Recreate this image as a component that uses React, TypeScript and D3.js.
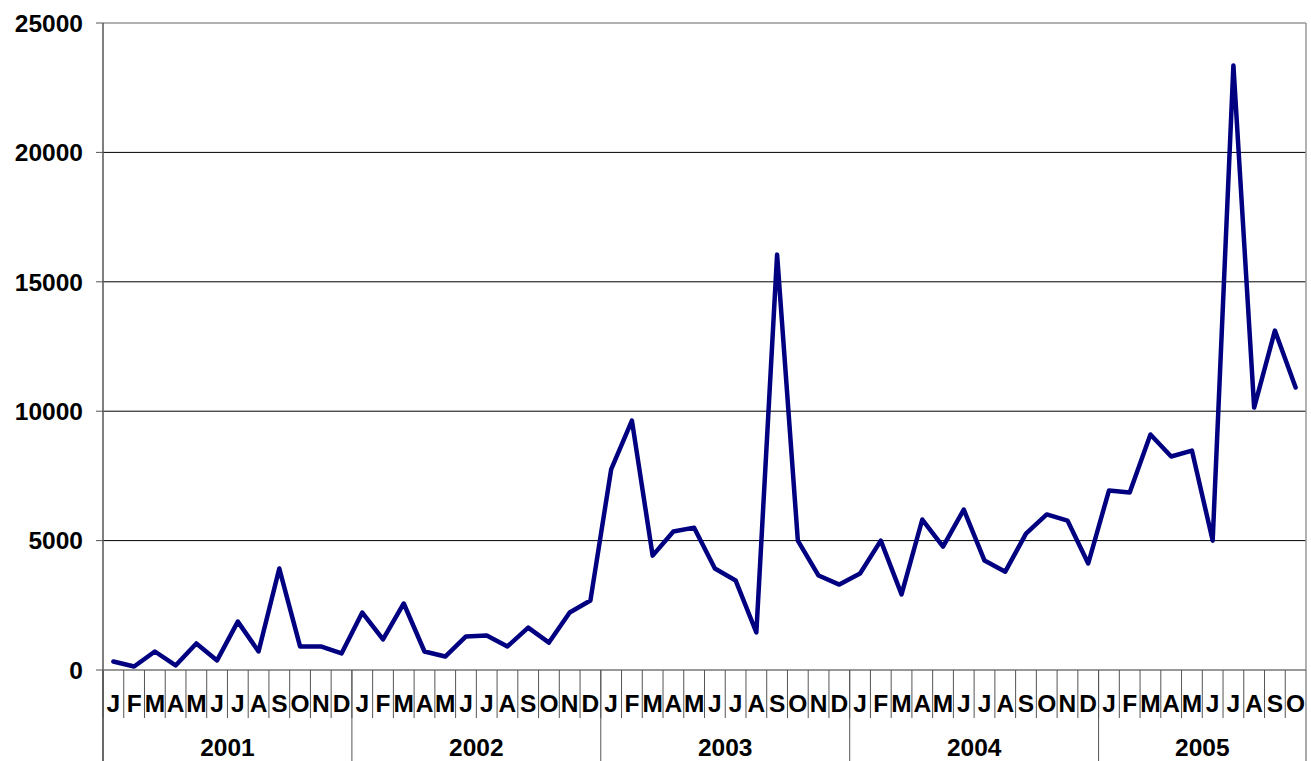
import React from 'react';
import * as d3 from 'd3';

const years = ['2001', '2002', '2003', '2004', '2005'];
const monthLetters = ['J', 'F', 'M', 'A', 'M', 'J', 'J', 'A', 'S', 'O', 'N', 'D'];
const yTicks = [0, 5000, 10000, 15000, 20000, 25000];

const values2001 = [330, 135, 715, 175, 1025, 370, 1870, 715, 3920, 910, 910, 640];
const values2002 = [2220, 1180, 2570, 715, 520, 1295, 1330, 910, 1640, 1060, 2220, 2685];
const values2003 = [7750, 9640, 4420, 5350, 5500, 3920, 3460, 1450, 16050, 5000, 3650, 3300];
const values2004 = [3730, 5000, 2920, 5815, 4770, 6200, 4230, 3800, 5270, 6010, 5775, 4115];
const values2005 = [6935, 6860, 9100, 8250, 8480, 5000, 23360, 10140, 13115, 10915];

const W = 1311;
const H = 761;
const m = { l: 103, r: 1306, t: 23, b: 670 };
const FONT = '"Liberation Sans", Arial, sans-serif';
const FS = 24.5;

export default function App() {
  const series = [values2001, values2002, values2003, values2004, values2005];
  const points = series.flatMap((vals, yi) =>
    vals.map((v, mi) => ({ key: `${years[yi]}-${mi}`, year: years[yi], label: monthLetters[mi], value: v }))
  );
  const keys = points.map((p) => p.key);

  const x = d3.scaleBand().domain(keys).range([m.l, m.r]).padding(0);
  const y = d3.scaleLinear().domain([0, 25000]).range([m.b, m.t]);

  const line = d3
    .line<(typeof points)[number]>()
    .x((d) => (x(d.key) || 0) + x.bandwidth() / 2)
    .y((d) => y(d.value));

  // year groups: first and last month index
  const yearSpans = years.map((yr) => {
    const idx = points.map((p, i) => (p.year === yr ? i : -1)).filter((i) => i >= 0);
    return { yr, x0: x(keys[idx[0]]) || 0, x1: (x(keys[idx[idx.length - 1]]) || 0) + x.bandwidth() };
  });

  return (
    <svg
      width={W}
      height={H}
      style={{ position: 'absolute', left: 0, top: 0, background: '#fff' }}
      fontFamily={FONT}
    >
      {/* gridlines */}
      {yTicks.slice(1, -1).map((t) => (
        <line key={t} x1={m.l} x2={m.r} y1={y(t)} y2={y(t)} stroke="#000" strokeWidth={1} />
      ))}
      {/* plot border top/right */}
      <line x1={m.l} x2={m.r} y1={y(25000)} y2={y(25000)} stroke="#999" strokeWidth={1.5} />
      <line x1={m.r} x2={m.r} y1={m.t} y2={m.b} stroke="#999" strokeWidth={1.5} />

      {/* y axis */}
      <line x1={m.l} x2={m.l} y1={m.t} y2={H} stroke="#555" strokeWidth={1.5} />
      {yTicks.map((t) => (
        <g key={t}>
          <line x1={96} x2={m.l} y1={y(t)} y2={y(t)} stroke="#555" strokeWidth={1} />
          <text
            x={83}
            y={y(t)}
            dy="0.36em"
            textAnchor="end"
            fontSize={FS}
            fontWeight="bold"
            fill="#000"
          >
            {t}
          </text>
        </g>
      ))}

      {/* x axis */}
      <line x1={m.l} x2={m.r} y1={m.b} y2={m.b} stroke="#777" strokeWidth={1.5} />
      {points.map((p) => {
        const x0 = x(p.key) || 0;
        return (
          <g key={p.key}>
            <line x1={x0} x2={x0} y1={m.b} y2={718} stroke="#555" strokeWidth={1} />
            <text
              x={x0 + x.bandwidth() / 2}
              y={712}
              textAnchor="middle"
              fontSize={FS}
              fontWeight="bold"
              fill="#000"
            >
              {p.label}
            </text>
          </g>
        );
      })}
      {yearSpans.map((s) => (
        <g key={s.yr}>
          <line x1={s.x0} x2={s.x0} y1={m.b} y2={H} stroke="#555" strokeWidth={1} />
          <text
            x={(s.x0 + s.x1) / 2}
            y={756}
            textAnchor="middle"
            fontSize={FS}
            fontWeight="bold"
            fill="#000"
          >
            {s.yr}
          </text>
        </g>
      ))}
      <line x1={m.r} x2={m.r} y1={m.b} y2={H} stroke="#555" strokeWidth={1} />

      {/* data line */}
      <path
        d={line(points) || ''}
        fill="none"
        stroke="#000080"
        strokeWidth={4.5}
        strokeLinejoin="round"
        strokeLinecap="round"
      />
    </svg>
  );
}
